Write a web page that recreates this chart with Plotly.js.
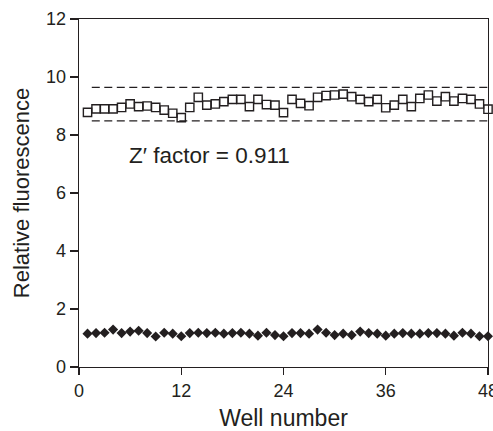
<!DOCTYPE html>
<html>
<head>
<meta charset="utf-8">
<script src="https://cdn.plot.ly/plotly-3.0.1.min.js"></script>
<style>html,body{margin:0;padding:0;background:#fff;}#chart{width:493px;height:431px;}</style>
</head>
<body>
<div id="chart"></div>
<script>
const wells = [1,2,3,4,5,6,7,8,9,10,11,12,13,14,15,16,17,18,19,20,21,22,23,24,25,26,27,28,29,30,31,32,33,34,35,36,37,38,39,40,41,42,43,44,45,46,47,48];
const positiveControl = [8.78,8.90,8.90,8.90,8.95,9.07,8.98,9.00,8.95,8.86,8.75,8.60,8.95,9.30,9.03,9.07,9.15,9.23,9.23,8.98,9.23,9.05,9.03,8.77,9.23,9.09,9.01,9.30,9.36,9.38,9.41,9.32,9.23,9.15,9.23,8.94,9.03,9.23,8.98,9.26,9.38,9.17,9.32,9.17,9.26,9.23,9.07,8.89];
const negativeControl = [1.15,1.17,1.18,1.29,1.17,1.22,1.25,1.17,1.05,1.18,1.15,1.06,1.17,1.18,1.17,1.18,1.15,1.17,1.18,1.15,1.08,1.18,1.10,1.06,1.17,1.17,1.15,1.29,1.18,1.10,1.15,1.10,1.22,1.17,1.15,1.08,1.15,1.17,1.15,1.15,1.17,1.17,1.15,1.08,1.18,1.15,1.06,1.06];
const limitX = [1.5, 48];
const upperLimit = [9.64, 9.64];
const lowerLimit = [8.49, 8.49];
const xTicks = [0, 12, 24, 36, 48];
const yTicks = [0, 2, 4, 6, 8, 10, 12];
const zLabel = "Z\u2032 factor = 0.911";

const ink = '#231f20';
const font = 'Liberation Sans, Arial, Helvetica, sans-serif';

const traces = [
  {x: limitX, y: upperLimit, mode: 'lines', line: {color: ink, width: 1.3, dash: '8px,4.5px'}, hoverinfo: 'skip', showlegend: false},
  {x: limitX, y: lowerLimit, mode: 'lines', line: {color: ink, width: 1.3, dash: '8px,4.5px'}, hoverinfo: 'skip', showlegend: false},
  {x: wells, y: positiveControl, mode: 'markers', cliponaxis: false,
   marker: {symbol: 'square-open', size: 8.3, color: ink, line: {color: ink, width: 1.4}}, showlegend: false},
  {x: wells, y: negativeControl, mode: 'markers', cliponaxis: false,
   marker: {symbol: 'diamond', size: 7.8, color: ink, line: {width: 0}}, showlegend: false}
];

const layout = {
  width: 493, height: 431,
  margin: {l: 79, r: 5, t: 19, b: 64},
  paper_bgcolor: '#fff', plot_bgcolor: '#fff',
  font: {family: font, color: ink, size: 18},
  showlegend: false,
  xaxis: {
    range: [0, 48], tickvals: xTicks, ticktext: xTicks.map(String),
    ticks: 'outside', ticklen: 7, tickwidth: 1.3, tickcolor: ink,
    ticklabeloverflow: 'allow',
    showline: true, linecolor: ink, linewidth: 1.3, mirror: true,
    showgrid: false, zeroline: false,
    tickfont: {size: 18, color: ink, family: font},
    title: {text: 'Well number', font: {size: 23, color: ink, family: font}, standoff: 14}
  },
  yaxis: {
    range: [0, 12], tickvals: yTicks, ticktext: yTicks.map(String),
    ticks: 'outside', ticklen: 8, tickwidth: 1.3, tickcolor: ink,
    showline: true, linecolor: ink, linewidth: 1.3, mirror: true,
    showgrid: false, zeroline: false,
    tickfont: {size: 18, color: ink, family: font},
    title: {text: 'Relative fluorescence', font: {size: 22, color: ink, family: font}, standoff: 10}
  },
  annotations: [{
    text: zLabel, xref: 'x', yref: 'y', x: 5.6, y: 7.28,
    xanchor: 'left', yanchor: 'middle', showarrow: false,
    font: {size: 22.5, color: ink, family: font}
  }]
};

Plotly.newPlot('chart', traces, layout, {displayModeBar: false, staticPlot: true});
</script>
</body>
</html>
